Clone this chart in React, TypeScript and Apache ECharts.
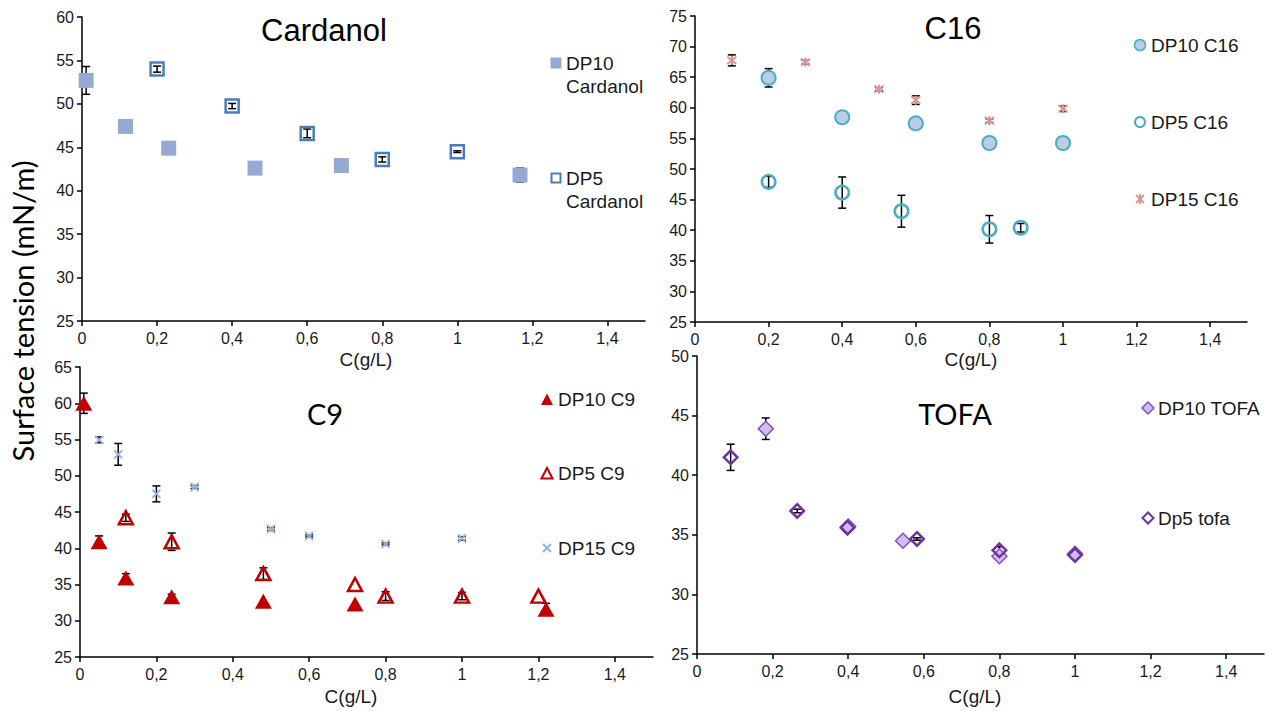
import React, { useEffect, useRef } from 'react';
import * as echarts from 'echarts';

// ---------- data ----------
const xTicks = [0, 0.2, 0.4, 0.6, 0.8, 1, 1.2, 1.4];

// Cardanol
const cardDP10X = [0.011, 0.116, 0.231, 0.461, 0.691, 1.167];
const cardDP10Y = [52.7, 47.4, 44.9, 42.6, 42.9, 41.8];
const cardDP10Err = [1.6, 0, 0, 0, 0, 0.8];
const cardDP5X = [0.2, 0.4, 0.6, 0.8, 1.0];
const cardDP5Y = [54.0, 49.75, 46.6, 43.6, 44.5];
const cardDP5Err = [0.35, 0.3, 0.5, 0.3, 0.1];

// C16
const c16DP10X = [0.2, 0.4, 0.6, 0.8, 1.0];
const c16DP10Y = [64.9, 58.45, 57.45, 54.25, 54.25];
const c16DP10Err = [1.5, 0, 0, 0, 0];
const c16DP5X = [0.2, 0.4, 0.561, 0.8, 0.885];
const c16DP5Y = [47.9, 46.15, 43.1, 40.15, 40.4];
const c16DP5Err = [0.9, 2.55, 2.6, 2.25, 0.7];
const c16DP15X = [0.1, 0.3, 0.5, 0.6, 0.8, 1.0];
const c16DP15Y = [67.75, 67.45, 63.05, 61.25, 57.9, 59.85];
const c16DP15Err = [0.9, 0.3, 0.25, 0.7, 0.3, 0.45];

// C9
const c9DP10X = [0.01, 0.05, 0.12, 0.24, 0.48, 0.72, 1.22];
const c9DP10Y = [60.0, 40.9, 35.9, 33.3, 32.7, 32.3, 31.6];
const c9DP10Err = [1.4, 0.8, 0.6, 0.35, 0, 0, 0.8];
const c9DP5X = [0.12, 0.24, 0.48, 0.72, 0.8, 1.0, 1.2];
const c9DP5Y = [44.2, 40.9, 36.5, 35.0, 33.4, 33.4, 33.4];
const c9DP5Err = [0.5, 1.2, 0.8, 0, 0.6, 0.5, 0];
const c9DP15X = [0.05, 0.1, 0.2, 0.3, 0.5, 0.6, 0.8, 1.0];
const c9DP15Y = [54.95, 52.95, 47.5, 48.45, 42.65, 41.7, 40.6, 41.35];
const c9DP15Err = [0.4, 1.5, 1.1, 0.2, 0.2, 0.15, 0.15, 0.25];

// TOFA
const tofaDP10X = [0.182, 0.4, 0.545, 0.8, 1.0];
const tofaDP10Y = [43.9, 35.7, 34.5, 33.2, 33.4];
const tofaDP10Err = [0.9, 0, 0, 0, 0];
const tofaDP5X = [0.089, 0.265, 0.398, 0.582, 0.8, 1.0];
const tofaDP5Y = [41.5, 37.0, 35.6, 34.65, 33.7, 33.3];
const tofaDP5Err = [1.1, 0.15, 0, 0.1, 0.3, 0];

// ---------- styles ----------
const ARIAL = '"Liberation Sans", Arial, sans-serif';
const CALIBRI = 'Lato, "Open Sans", sans-serif';
const TXT = '#1a1a1a';
const X_PATH = 'path://M0,0L10,10M10,0L0,10';
const STAR_PATH = 'path://M1,1L9,9M9,1L1,9M5,0L5,10';

const zip = (xs: number[], ys: number[], es: number[]) => xs.map((x, i) => [x, ys[i], es[i]]);

const errRender = (params: any, api: any) => {
  const x = api.value(0);
  const y = api.value(1);
  const e = api.value(2);
  if (!e) return null;
  const top = api.coord([x, y + e]);
  const bot = api.coord([x, y - e]);
  const hw = 4;
  const style = { stroke: '#000', lineWidth: 1.5 };
  return {
    type: 'group',
    children: [
      { type: 'line', shape: { x1: top[0], y1: top[1], x2: bot[0], y2: bot[1] }, style },
      { type: 'line', shape: { x1: top[0] - hw, y1: top[1], x2: top[0] + hw, y2: top[1] }, style },
      { type: 'line', shape: { x1: bot[0] - hw, y1: bot[1], x2: bot[0] + hw, y2: bot[1] }, style },
    ],
  };
};

const makePair = (idx: number, name: string, xs: number[], ys: number[], es: number[], symbol: string, size: any, itemStyle: any) => {
  const data = zip(xs, ys, es);
  return [
    {
      type: 'custom',
      name: name + ' err',
      xAxisIndex: idx,
      yAxisIndex: idx,
      renderItem: errRender,
      encode: { x: 0, y: 1 },
      data,
      z: 1,
      silent: true,
    },
    {
      type: 'scatter',
      name,
      xAxisIndex: idx,
      yAxisIndex: idx,
      symbol,
      symbolSize: size,
      itemStyle: { opacity: 1, ...itemStyle },
      data: data.map((d) => [d[0], d[1]]),
      z: 3,
    },
  ];
};

const fmtX = (v: number) => String(Math.round(v * 10) / 10).replace('.', ',');

const axisLineStyle = { color: '#000', width: 1.5 };

const makeX = (idx: number) => ({
  type: 'value',
  gridIndex: idx,
  min: 0,
  max: 1.5,
  axisLine: { show: true, onZero: false, lineStyle: axisLineStyle },
  axisTick: { show: true, inside: false, length: 5, customValues: xTicks, lineStyle: axisLineStyle },
  axisLabel: { customValues: xTicks, formatter: fmtX, fontSize: 16, color: TXT, fontFamily: ARIAL, margin: 9 },
  splitLine: { show: false },
});

const makeY = (idx: number, min: number, max: number) => ({
  type: 'value',
  gridIndex: idx,
  min,
  max,
  interval: 5,
  axisLine: { show: true, onZero: false, lineStyle: axisLineStyle },
  axisTick: { show: true, inside: false, length: 5, lineStyle: axisLineStyle },
  axisLabel: { fontSize: 16, color: TXT, fontFamily: ARIAL, margin: 8 },
  splitLine: { show: false },
});

const legText = (x: number, y: number, text: string) => ({
  type: 'text',
  x,
  y,
  style: { text, fontSize: 19, fontFamily: ARIAL, fill: TXT, align: 'left', verticalAlign: 'middle' },
});

const xLines = (cx: number, cy: number, r: number, color: string, star: boolean) => {
  const st = { stroke: color, lineWidth: 2 };
  const arr: any[] = [
    { type: 'line', shape: { x1: cx - r, y1: cy - r, x2: cx + r, y2: cy + r }, style: st },
    { type: 'line', shape: { x1: cx + r, y1: cy - r, x2: cx - r, y2: cy + r }, style: st },
  ];
  if (star) arr.push({ type: 'line', shape: { x1: cx, y1: cy - r - 1, x2: cx, y2: cy + r + 1 }, style: st });
  return arr;
};

const diamond = (cx: number, cy: number, r: number) => [
  [cx, cy - r],
  [cx + r, cy],
  [cx, cy + r],
  [cx - r, cy],
];
const triangle = (cx: number, cy: number, r: number) => [
  [cx, cy - r],
  [cx + r, cy + r * 0.9],
  [cx - r, cy + r * 0.9],
];

export default function App() {
  const ref = useRef<HTMLDivElement>(null);

  useEffect(() => {
    if (!ref.current) return;
    const chart = echarts.init(ref.current, null, { renderer: 'svg' });

    const c16Blue = '#4BACC6';
    const series: any[] = [
      ...makePair(0, 'DP10 Cardanol', cardDP10X, cardDP10Y, cardDP10Err, 'rect', 15, { color: '#95A9D3' }),
      ...makePair(0, 'DP5 Cardanol', cardDP5X, cardDP5Y, cardDP5Err, 'rect', 13, {
        color: 'rgba(255,255,255,0)', borderColor: '#4A7EBB', borderWidth: 2.5,
      }),
      ...makePair(1, 'DP10 C16', c16DP10X, c16DP10Y, c16DP10Err, 'circle', 14, {
        color: '#B9CDE5', borderColor: c16Blue, borderWidth: 2,
      }),
      ...makePair(1, 'DP5 C16', c16DP5X, c16DP5Y, c16DP5Err, 'circle', 13.5, {
        color: 'rgba(255,255,255,0)', borderColor: c16Blue, borderWidth: 2.5,
      }),
      ...makePair(1, 'DP15 C16', c16DP15X, c16DP15Y, c16DP15Err, STAR_PATH, 9, {
        color: '#D99694', borderColor: '#D99694', borderWidth: 2,
      }),
      ...makePair(2, 'DP10 C9', c9DP10X, c9DP10Y, c9DP10Err, 'triangle', [17, 15], { color: '#C00000' }),
      ...makePair(2, 'DP5 C9', c9DP5X, c9DP5Y, c9DP5Err, 'triangle', [14, 13], {
        color: 'rgba(255,255,255,0)', borderColor: '#C00000', borderWidth: 2.5,
      }),
      ...makePair(2, 'DP15 C9', c9DP15X, c9DP15Y, c9DP15Err, X_PATH, 8, {
        color: '#95B3D7', borderColor: '#95B3D7', borderWidth: 2,
      }),
      ...makePair(3, 'DP10 TOFA', tofaDP10X, tofaDP10Y, tofaDP10Err, 'diamond', 15, {
        color: '#D3BCF0', borderColor: '#8050C0', borderWidth: 1.5,
      }),
      ...makePair(3, 'Dp5 tofa', tofaDP5X, tofaDP5Y, tofaDP5Err, 'diamond', 13.5, {
        color: 'rgba(255,255,255,0)', borderColor: '#7030A0', borderWidth: 2.5,
      }),
    ];

    const titleStyle = (text: string, font: string, size: number) => ({
      text, fontSize: size, fontFamily: font, fill: '#000', align: 'center', verticalAlign: 'middle',
    });
    const axisTitle = (x: number, y: number) => ({
      type: 'text', x, y,
      style: { text: 'C(g/L)', fontSize: 19, fontFamily: ARIAL, fill: TXT, align: 'center', verticalAlign: 'middle' },
    });

    const graphic: any[] = [
      // panel titles
      { type: 'text', x: 324, y: 30, style: titleStyle('Cardanol', ARIAL, 31) },
      { type: 'text', x: 953, y: 28, style: titleStyle('C16', ARIAL, 31) },
      { type: 'text', x: 325, y: 413, style: titleStyle('C9', CALIBRI, 29) },
      { type: 'text', x: 955, y: 413, style: titleStyle('TOFA', CALIBRI, 29) },
      // axis titles
      axisTitle(366, 359),
      axisTitle(971, 359),
      axisTitle(351, 696),
      axisTitle(975, 696),
      {
        type: 'text', x: 22, y: 311, rotation: Math.PI / 2,
        style: { text: 'Surface tension (mN/m)', fontSize: 29, fontFamily: CALIBRI, fill: '#000', align: 'center', verticalAlign: 'middle' },
      },
      // legend: Cardanol
      { type: 'rect', shape: { x: 550.5, y: 57.5, width: 11, height: 11 }, style: { fill: '#95A9D3' } },
      legText(566, 63, 'DP10'),
      legText(566, 86, 'Cardanol'),
      { type: 'rect', shape: { x: 551.5, y: 173.5, width: 9, height: 9 }, style: { fill: '#fff', stroke: '#4A7EBB', lineWidth: 2 } },
      legText(566, 178, 'DP5'),
      legText(566, 201, 'Cardanol'),
      // legend: C16
      { type: 'circle', shape: { cx: 1140, cy: 45, r: 5.5 }, style: { fill: '#B9CDE5', stroke: c16Blue, lineWidth: 1.5 } },
      legText(1151, 45, 'DP10 C16'),
      { type: 'circle', shape: { cx: 1140, cy: 122, r: 5 }, style: { fill: '#fff', stroke: c16Blue, lineWidth: 2 } },
      legText(1151, 122, 'DP5 C16'),
      ...xLines(1140, 199, 4, '#D99694', true),
      legText(1151, 199, 'DP15 C16'),
      // legend: C9
      { type: 'polygon', shape: { points: triangle(547, 399.5, 6) }, style: { fill: '#C00000' } },
      legText(558, 399.5, 'DP10 C9'),
      { type: 'polygon', shape: { points: triangle(547, 473.5, 5.5) }, style: { fill: '#fff', stroke: '#C00000', lineWidth: 2 } },
      legText(558, 473.5, 'DP5 C9'),
      ...xLines(547, 548, 4, '#95B3D7', false),
      legText(558, 548, 'DP15 C9'),
      // legend: TOFA
      { type: 'polygon', shape: { points: diamond(1148, 408, 6) }, style: { fill: '#D3BCF0', stroke: '#8050C0', lineWidth: 1.5 } },
      legText(1158, 408, 'DP10 TOFA'),
      { type: 'polygon', shape: { points: diamond(1148, 518, 5.5) }, style: { fill: '#fff', stroke: '#7030A0', lineWidth: 2 } },
      legText(1158, 518, 'Dp5 tofa'),
    ];

    chart.setOption({
      animation: false,
      backgroundColor: '#fff',
      grid: [
        { left: 82, top: 17, width: 563, height: 304 },
        { left: 695, top: 16, width: 552, height: 306 },
        { left: 80, top: 367, width: 573, height: 290 },
        { left: 697, top: 356, width: 567, height: 298 },
      ],
      xAxis: [makeX(0), makeX(1), makeX(2), makeX(3)],
      yAxis: [makeY(0, 25, 60), makeY(1, 25, 75), makeY(2, 25, 65), makeY(3, 25, 50)],
      series,
      graphic,
    });

    return () => chart.dispose();
  }, []);

  return (
    <div
      ref={ref}
      style={{ position: 'fixed', left: 0, top: 0, width: 1284, height: 711, background: '#fff' }}
    />
  );
}
